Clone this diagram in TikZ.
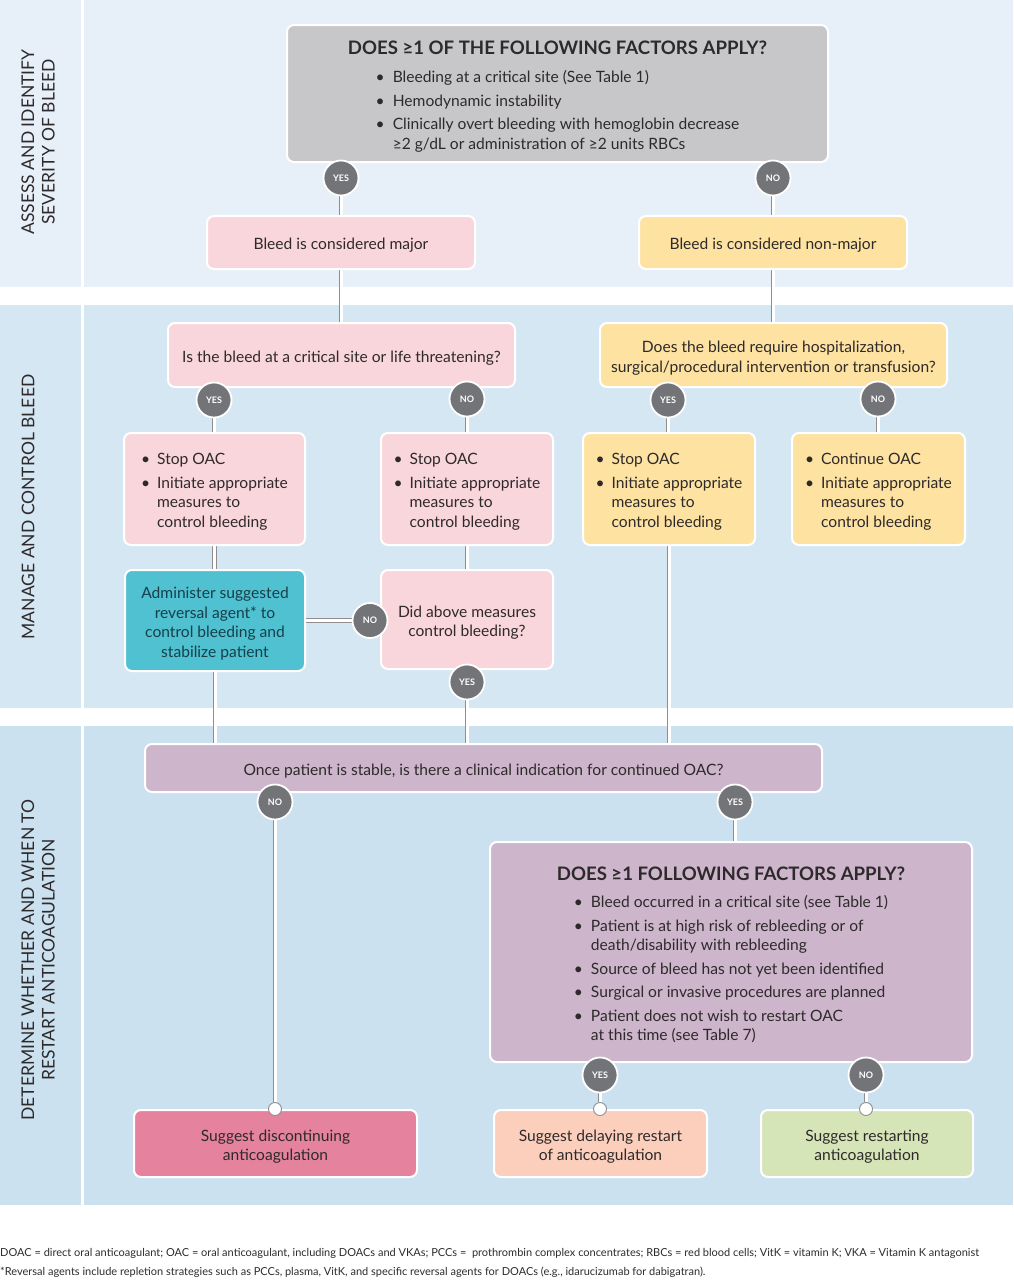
\documentclass[tikz,border=0pt]{standalone}
\usepackage{fontspec}
\setmainfont{Lato}
\usetikzlibrary{backgrounds}
\definecolor{bandA}{HTML}{E7F0F9}
\definecolor{bandB}{HTML}{D6E7F4}
\definecolor{bandC}{HTML}{CBE1F0}
\definecolor{boxgray}{HTML}{C7C7C9}
\definecolor{boxpink}{HTML}{F9D6DC}
\definecolor{boxyellow}{HTML}{FDE2A1}
\definecolor{boxteal}{HTML}{4FC1D1}
\definecolor{boxmauve}{HTML}{CDB5CB}
\definecolor{boxrose}{HTML}{E5829D}
\definecolor{boxpeach}{HTML}{FBCFBB}
\definecolor{boxgreen}{HTML}{D6E5B7}
\definecolor{circgray}{HTML}{737477}
\definecolor{pipegray}{HTML}{8E8E91}
\definecolor{textdark}{HTML}{2E2A2B}
\definecolor{textteal}{HTML}{163F49}
\newcommand{\bodyfont}{\fontsize{15.6}{19.5}\selectfont}
\newcommand{\headfont}{\fontsize{18.6}{22}\selectfont\bfseries}
\newcommand{\sidefont}{\fontsize{17.5}{20.5}\selectfont}
\newcommand{\bul}{\textbullet}
\newcommand{\lift}{\rule{0pt}{17.5pt}}
\newcommand{\measures}[1]{\begin{tabular}{@{}l@{\hspace{7pt}}l@{}}\rule{0pt}{19.6pt}\bul & #1\\[4pt] \bul & Initiate appropriate\\ & measures to\\ & control bleeding\end{tabular}}

\begin{document}
\begin{tikzpicture}[x=1pt, y=-1pt,
	box/.style={rounded corners=7pt, draw=white, line width=2pt, align=center, text=textdark, font=\bodyfont, inner sep=0pt},
	ans/.style={circle, fill=circgray, draw=white, line width=1.8pt, minimum size=35pt, inner sep=0pt, text=white, font=\fontsize{9}{10}\selectfont\bfseries},
	pipe/.style={draw=pipegray, line width=0.9pt, double=white, double distance=3pt},
	endcap/.style={circle, draw=pipegray, fill=white, line width=0.9pt, minimum size=13pt, inner sep=0pt},
	side/.style={rotate=90, align=center, text=textdark, font=\sidefont}]
	\useasboundingbox (0,0) rectangle (1013,1280);
	\begin{scope}[on background layer]
		\fill[bandA] (0,0) rectangle (81,287);
		\fill[bandA] (84,0) rectangle (1013,287);
		\fill[bandB] (0,305) rectangle (81,708);
		\fill[bandB] (84,305) rectangle (1013,708);
		\fill[bandC] (0,726) rectangle (81,1205);
		\fill[bandC] (84,726) rectangle (1013,1205);
	\end{scope}
	\node[side] (assess) at (38,142) {ASSESS AND IDENTIFY\\SEVERITY OF BLEED};
	\node[side] (manage) at (28,507) {MANAGE AND CONTROL BLEED};
	\node[side] (determine) at (38,960) {DETERMINE WHETHER AND WHEN TO\\RESTART ANTICOAGULATION};
	\node[box, fill=boxgray, minimum width=541pt, minimum height=137pt] (factors) at (557.5,93.5)
		{\rule{0pt}{23pt}{\headfont DOES ≥1 OF THE FOLLOWING FACTORS APPLY?}\\[13pt]
		\begin{tabular}{@{}l@{\hspace{8pt}}l@{}}
		\bul & Bleeding at a critical site (See Table 1)\\[4pt]
		\bul & Hemodynamic instability\\[4pt]
		\bul & Clinically overt bleeding with hemoglobin decrease\\
		& ≥2 g/dL or administration of ≥2 units RBCs
		\end{tabular}};
	\node[box, fill=boxpink, minimum width=268pt, minimum height=53pt] (major) at (341,242.5) {\lift Bleed is considered major};
	\node[box, fill=boxyellow, minimum width=268pt, minimum height=53pt] (nonmajor) at (773,242.5) {\lift Bleed is considered non-major};
	\node[box, fill=boxpink, minimum width=347pt, minimum height=64pt] (critical) at (341.5,355) {\lift Is the bleed at a critical site or life threatening?};
	\node[box, fill=boxyellow, minimum width=347pt, minimum height=64pt] (hospital) at (773.5,355) {\lift Does the bleed require hospitalization,\\surgical/procedural intervention or transfusion?};
	\node[box, fill=boxpink, minimum width=181pt, minimum height=112pt] (stopa) at (214.5,489) {\measures{Stop OAC}};
	\node[box, fill=boxpink, minimum width=172pt, minimum height=112pt] (stopb) at (467,489) {\measures{Stop OAC}};
	\node[box, fill=boxyellow, minimum width=172pt, minimum height=112pt] (stopc) at (669,489) {\measures{Stop OAC}};
	\node[box, fill=boxyellow, minimum width=173pt, minimum height=112pt] (contd) at (878.5,489) {\measures{Continue OAC}};
	\node[box, fill=boxteal, text=textteal, minimum width=180pt, minimum height=101pt] (reversal) at (215,620.5) {\lift Administer suggested\\reversal agent* to\\control bleeding and\\stabilize patient};
	\node[box, fill=boxpink, minimum width=172pt, minimum height=99pt] (controlled) at (467,619.5) {\lift Did above measures\\control bleeding?};
	\node[box, fill=boxmauve, minimum width=677pt, minimum height=48pt] (indication) at (483.5,768) {\lift Once patient is stable, is there a clinical indication for continued OAC?};
	\node[box, fill=boxmauve, minimum width=482pt, minimum height=220pt] (restartq) at (731,952)
		{\rule{0pt}{23pt}{\headfont DOES ≥1 FOLLOWING FACTORS APPLY?}\\[13pt]
		\begin{tabular}{@{}l@{\hspace{8pt}}l@{}}
		\bul & Bleed occurred in a critical site (see Table 1)\\[4pt]
		\bul & Patient is at high risk of rebleeding or of\\
		& death/disability with rebleeding\\[4pt]
		\bul & Source of bleed has not yet been identified\\[4pt]
		\bul & Surgical or invasive procedures are planned\\[4pt]
		\bul & Patient does not wish to restart OAC\\
		& at this time (see Table 7)
		\end{tabular}};
	\node[box, fill=boxrose, minimum width=283pt, minimum height=67pt] (discont) at (275.5,1143.5) {\lift Suggest discontinuing\\anticoagulation};
	\node[box, fill=boxpeach, minimum width=213pt, minimum height=67pt] (delay) at (600.5,1143.5) {\lift Suggest delaying restart\\of anticoagulation};
	\node[box, fill=boxgreen, minimum width=212pt, minimum height=67pt] (restart) at (867,1143.5) {\lift Suggest restarting\\anticoagulation};
	\node[ans] (yesa) at (341,178) {YES};
	\node[ans] (noa) at (773,178) {NO};
	\node[ans] (yesb) at (214,400) {YES};
	\node[ans] (nob) at (467,399) {NO};
	\node[ans] (yesc) at (668,400) {YES};
	\node[ans] (noc) at (878,399) {NO};
	\node[ans] (nod) at (370,620.5) {NO};
	\node[ans] (yesd) at (467,682) {YES};
	\node[ans] (noe) at (275,802) {NO};
	\node[ans] (yese) at (735,802) {YES};
	\node[ans] (yesf) at (600,1075) {YES};
	\node[ans] (nof) at (866,1075) {NO};
	\node[endcap] (capa) at (discont.north -| noe) {};
	\node[endcap] (capb) at (delay.north -| yesf) {};
	\node[endcap] (capc) at (restart.north -| nof) {};
	\node[anchor=west, inner sep=0pt, text=textdark, font=\fontsize{11}{12}\selectfont] (abbrev) at (0,1253) {DOAC = direct oral anticoagulant; OAC = oral anticoagulant, including DOACs and VKAs; PCCs =\ \ prothrombin complex concentrates; RBCs = red blood cells; VitK = vitamin K; VKA = Vitamin K antagonist};
	\node[anchor=west, inner sep=0pt, text=textdark, font=\fontsize{11}{12}\selectfont] (revnote) at (0,1272) {*Reversal agents include repletion strategies such as PCCs, plasma, VitK, and specific reversal agents for DOACs (e.g., idarucizumab for dabigatran).};
	\begin{scope}[on background layer]
		\path[every edge/.style=pipe]
		(yesa) edge (yesa |- major.north)
		(noa) edge (noa |- nonmajor.north)
		(major.south) edge (major.south |- critical.north)
		(nonmajor.south) edge (nonmajor.south |- hospital.north)
		(yesb) edge (yesb |- stopa.north)
		(nob) edge (nob |- stopb.north)
		(yesc) edge (yesc |- stopc.north)
		(noc) edge (noc |- contd.north)
		(stopa.south) edge (stopa.south |- reversal.north)
		(stopb.south) edge (stopb.south |- controlled.north)
		(reversal.east) edge (nod)
		(reversal.south) edge (reversal.south |- indication.north)
		(yesd) edge (yesd |- indication.north)
		(stopc.south) edge (stopc.south |- indication.north)
		(noe) edge (capa)
		(yese) edge (yese |- restartq.north)
		(yesf) edge (capb)
		(nof) edge (capc);
	\end{scope}
\end{tikzpicture}
\end{document}
